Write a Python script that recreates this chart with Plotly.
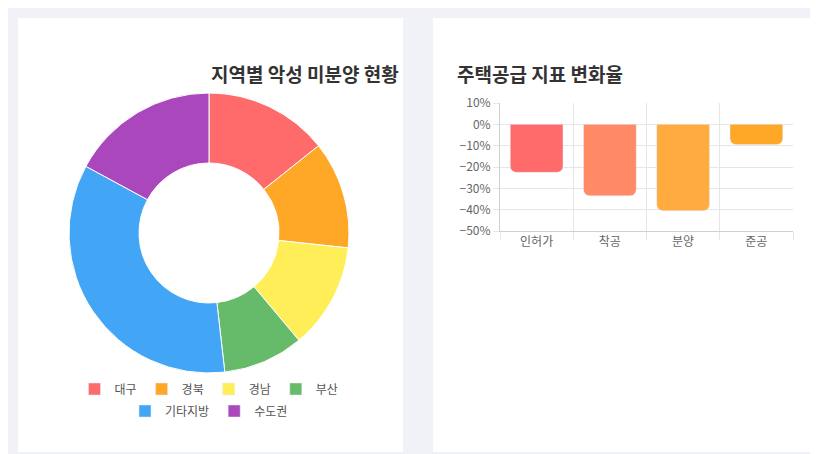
import plotly.graph_objects as go

regions = ["대구", "경북", "경남", "부산", "기타지방", "수도권"]
region_share = [14.3, 12.4, 12.2, 9.3, 34.7, 17.1]
region_colors = ["#ff6b6b", "#ffa726", "#ffee58", "#66bb6a", "#42a5f5", "#ab47bc"]

indicators = ["인허가", "착공", "분양", "준공"]
change_rate = [-22.5, -33.5, -40.5, -9.5]
bar_colors = ["#ff6b6b", "#ff8a65", "#ffab40", "#ffa726"]

W, H = 818, 454

fig = go.Figure()

fig.add_trace(go.Pie(
    labels=regions, values=region_share, hole=0.5, sort=False,
    direction="clockwise", rotation=0, showlegend=False,
    marker=dict(colors=region_colors, line=dict(color="white", width=1)),
    textinfo="none", hoverinfo="label+percent",
    domain=dict(x=[61 / W, 341 / W], y=[1 - 365 / H, 1 - 85 / H]),
))

# legend entries for the donut, split over two rows
for i, (name, color) in enumerate(zip(regions, region_colors)):
    fig.add_trace(go.Bar(
        x=[None], y=[None], name=name, marker=dict(color=color),
        xaxis="x2", yaxis="y2", legend="legend" if i < 4 else "legend2",
    ))

fig.add_trace(go.Bar(
    x=indicators, y=change_rate, marker=dict(color=bar_colors, cornerradius=6),
    width=0.72, showlegend=False, xaxis="x", yaxis="y",
))

card = dict(type="rect", xref="paper", yref="paper", line=dict(width=0),
            fillcolor="white", layer="below")
leg = dict(orientation="h", x=201 / W, xanchor="center", yanchor="middle",
           font=dict(size=12, color="#555"), bgcolor="rgba(0,0,0,0)",
           itemwidth=30)
fig.update_layout(
    width=W, height=H, margin=dict(l=0, r=0, t=0, b=0, autoexpand=False),
    paper_bgcolor="#f1f2f7", plot_bgcolor="white",
    font=dict(family="Noto Sans CJK KR", color="#555", size=12),
    shapes=[
        dict(card, x0=10 / W, x1=395 / W, y0=1 - 444 / H, y1=1 - 10 / H),
        dict(card, x0=425 / W, x1=810 / W, y0=1 - 444 / H, y1=1 - 10 / H),
    ],
    annotations=[
        dict(text="<b>지역별 악성 미분양 현황</b>", x=201 / W, y=1 - 50 / H, xref="paper",
             yref="paper", showarrow=False, font=dict(size=19, color="#333")),
        dict(text="<b>주택공급 지표 변화율</b>", x=617 / W, y=1 - 50 / H, xref="paper",
             yref="paper", showarrow=False, font=dict(size=19, color="#333")),
    ],
    legend=dict(leg, y=1 - 381 / H),
    legend2=dict(leg, y=1 - 403 / H),
    xaxis=dict(domain=[492 / W, 785 / W], anchor="y", tickson="boundaries",
               showgrid=True, gridcolor="#e6e6e6", ticks="outside", ticklen=8,
               tickcolor="#e6e6e6", showline=True, linecolor="#d0d0d0",
               tickfont=dict(size=12, color="#666")),
    yaxis=dict(domain=[1 - 223 / H, 1 - 95 / H], anchor="x", range=[-50, 10],
               dtick=10, ticksuffix="%", gridcolor="#e6e6e6", zeroline=False,
               showline=True, linecolor="#d0d0d0", ticks="outside", ticklen=6,
               tickcolor="#e6e6e6", tickfont=dict(size=12, color="#666")),
    xaxis2=dict(domain=[0, 0.01], anchor="y2", visible=False),
    yaxis2=dict(domain=[0, 0.01], anchor="x2", visible=False),
)

fig.write_html("out.html")
